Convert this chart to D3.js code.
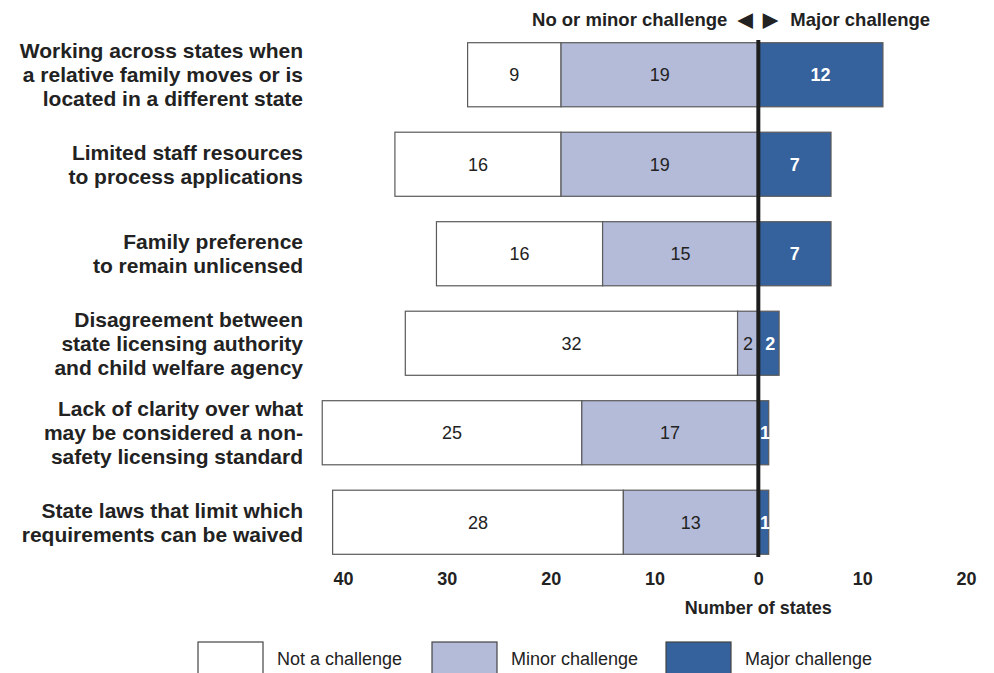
<html>
<head>
<script src="https://d3js.org/d3.v7.min.js"></script>
<style>
  body { margin: 0; background: #fff; }
  text { font-family: "Liberation Sans", Arial, sans-serif; }
</style>
</head>
<body>
<svg id="chart" width="994" height="673"></svg>
<script>
    // data
    var categories = [
        ["Working across states when", "a relative family moves or is", "located in a different state"],
        ["Limited staff resources", "to process applications"],
        ["Family preference", "to remain unlicensed"],
        ["Disagreement between", "state licensing authority", "and child welfare agency"],
        ["Lack of clarity over what", "may be considered a non-", "safety licensing standard"],
        ["State laws that limit which", "requirements can be waived"]
    ];
    var notChallenge = [9, 16, 16, 32, 25, 28];
    var minorChallenge = [19, 19, 15, 2, 17, 13];
    var majorChallenge = [12, 7, 7, 2, 1, 1];
    var tickValues = [-40, -30, -20, -10, 0, 10, 20];
    var seriesNames = ["Not a challenge", "Minor challenge", "Major challenge"];
    var seriesColors = ["#ffffff", "#b4bbd9", "#35619c"];

    var svg = d3.select("#chart");

    var x = d3.scaleLinear().domain([-40, 20]).range([343, 966]);
    var y = d3.scaleBand()
        .domain(d3.range(categories.length))
        .range([30, 567])
        .paddingInner(0.284)
        .paddingOuter(0.142);

    var rows = categories.map(function (c, i) {
        return {
            i: i,
            lines: c,
            segs: [
                {s: 0, x0: -(minorChallenge[i] + notChallenge[i]), x1: -minorChallenge[i], v: notChallenge[i]},
                {s: 1, x0: -minorChallenge[i], x1: 0, v: minorChallenge[i]},
                {s: 2, x0: 0, x1: majorChallenge[i], v: majorChallenge[i]}
            ]
        };
    });

    var g = svg.append("g");

    var row = g.selectAll(".row").data(rows).enter().append("g")
        .attr("class", "row")
        .attr("transform", function (d) { return "translate(0," + y(d.i) + ")"; });

    row.selectAll("rect").data(function (d) { return d.segs; }).enter().append("rect")
        .attr("x", function (d) { return x(d.x0); })
        .attr("y", 0)
        .attr("width", function (d) { return x(d.x1) - x(d.x0); })
        .attr("height", y.bandwidth())
        .attr("fill", function (d) { return seriesColors[d.s]; })
        .attr("stroke", "#5a5a5a")
        .attr("stroke-width", 1.2);

    row.selectAll(".val").data(function (d) { return d.segs; }).enter().append("text")
        .attr("class", "val")
        .attr("x", function (d) { return (x(d.x0) + x(d.x1)) / 2 + (d.s === 2 && d.v < 3 ? 1.5 : 0); })
        .attr("y", y.bandwidth() / 2)
        .attr("dy", "0.36em")
        .attr("text-anchor", "middle")
        .attr("font-size", 18)
        .attr("font-weight", function (d) { return d.s === 2 ? "bold" : "normal"; })
        .attr("fill", function (d) { return d.s === 2 ? "#fff" : "#222"; })
        .text(function (d) { return d.v; });

    // category labels
    row.append("text")
        .attr("text-anchor", "end")
        .attr("font-size", 21)
        .attr("font-weight", "bold")
        .attr("fill", "#222")
        .selectAll("tspan").data(function (d) { return d.lines.map(function (l, k) { return {l: l, k: k, n: d.lines.length}; }); })
        .enter().append("tspan")
        .attr("x", 303)
        .attr("y", function (d) { return y.bandwidth() / 2 + (d.k - (d.n - 1) / 2) * 24; })
        .attr("dy", "0.36em")
        .text(function (d) { return d.l; });

    // zero line
    g.append("line")
        .attr("x1", x(0)).attr("x2", x(0))
        .attr("y1", 40).attr("y2", 557)
        .attr("stroke", "#1e1e1e")
        .attr("stroke-width", 4);

    // axis
    var xAxis = d3.axisBottom(x).tickValues(tickValues).tickSize(0).tickPadding(0)
        .tickFormat(function (d) { return Math.abs(d); });
    var ax = svg.append("g").attr("transform", "translate(0,571)").call(xAxis);
    ax.select(".domain").remove();
    ax.selectAll("text")
        .attr("font-family", "Liberation Sans, Arial, sans-serif")
        .attr("font-size", 18)
        .attr("font-weight", "bold")
        .attr("fill", "#222")
        .attr("dy", "0.75em");

    svg.append("text")
        .attr("x", x(0))
        .attr("y", 614)
        .attr("text-anchor", "middle")
        .attr("font-size", 18)
        .attr("font-weight", "bold")
        .attr("fill", "#222")
        .text("Number of states");

    // header
    var hdr = svg.append("g").attr("font-size", 18.5).attr("font-weight", "bold").attr("fill", "#222");
    hdr.append("text").attr("x", x(0) - 31).attr("y", 26).attr("text-anchor", "end").text("No or minor challenge");
    hdr.append("text").attr("x", x(0) - 5).attr("y", 26).attr("text-anchor", "end")
        .attr("font-family", "DejaVu Sans").attr("font-size", 19).text("\u25C0");
    hdr.append("text").attr("x", x(0) + 5).attr("y", 26).attr("text-anchor", "start")
        .attr("font-family", "DejaVu Sans").attr("font-size", 19).text("\u25B6");
    hdr.append("text").attr("x", x(0) + 32).attr("y", 26).attr("text-anchor", "start").text("Major challenge");

    // legend
    var leg = svg.selectAll(".leg").data(seriesNames).enter().append("g")
        .attr("class", "leg")
        .attr("transform", function (d, i) { return "translate(" + (198 + i * 234) + ",642)"; });
    leg.append("rect")
        .attr("width", 65).attr("height", 40)
        .attr("fill", function (d, i) { return seriesColors[i]; })
        .attr("stroke", "#444").attr("stroke-width", 1.2);
    leg.append("text")
        .attr("x", 79).attr("y", 23)
        .attr("font-size", 18)
        .attr("fill", "#222")
        .text(function (d) { return d; });
</script>
</body>
</html>
